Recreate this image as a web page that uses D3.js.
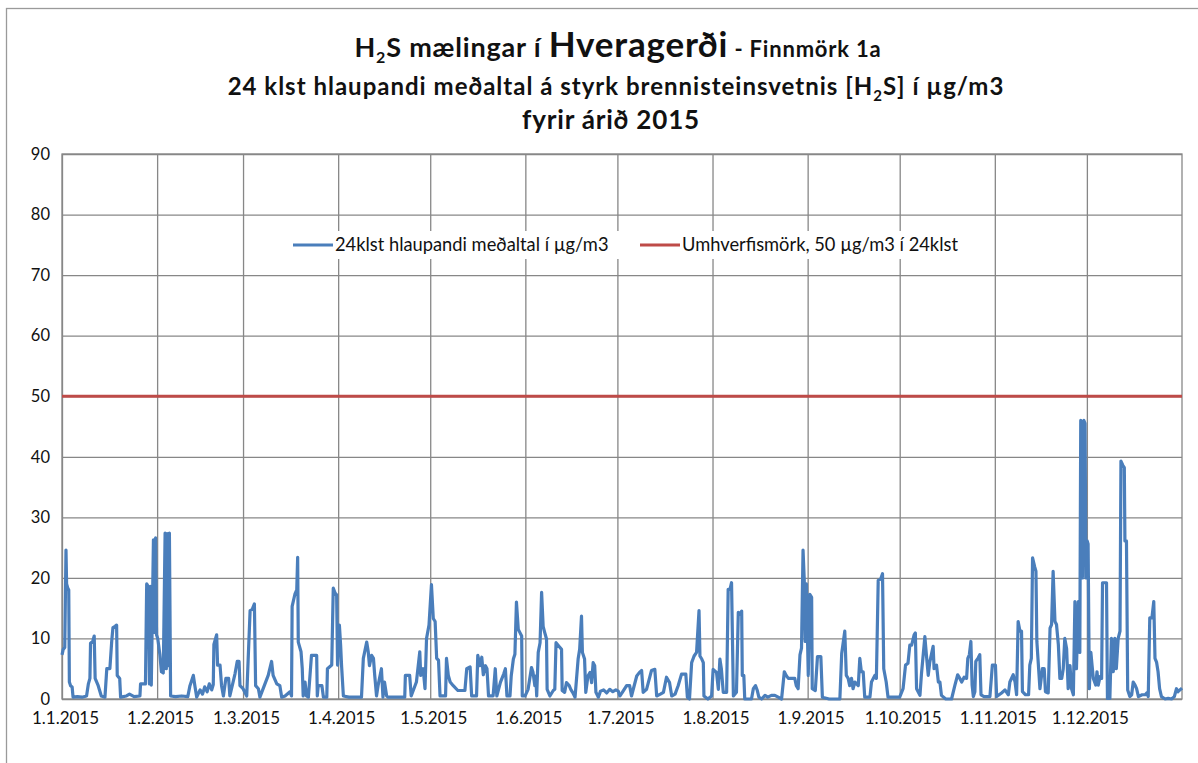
<!DOCTYPE html>
<html>
<head>
<meta charset="utf-8">
<script src="https://cdn.jsdelivr.net/npm/d3@7"></script>
<style>
    body { margin: 0; background: #fff; }
    svg { display: block; font-family: Lato, "Open Sans", sans-serif; }
</style>
</head>
<body>
<div id="chart"></div>
<script>
// Data: day of year 2015 (fractional) and 24h running mean of H2S in µg/m3
const h2sSeries = [
    [0,7.3],[0.4,8.2],[0.9,8.5],[1.3,24.6],[1.5,19],[1.9,18.3],[2.2,18],[2.4,2.8],[2.8,2.2],[3.3,2],[3.6,0.3],[5,0.4],[6.5,0.3],[8,0.5],
    [8.6,2.5],[9.1,3.4],[9.3,9.2],[10,9.5],[10.5,10.4],[10.8,3.4],[11.8,2.2],[12.8,0.5],[14,0.3],[14.6,5],[15.6,5],[16.2,9.5],[16.6,11.8],
    [17.3,12],[17.8,12.2],[18,3.9],[18.8,3.4],[19.1,0.3],[21,0.5],[22,0.8],[23.5,0.4],[25.4,0.5],[25.6,2.5],[27.2,2.5],[27.6,19],[28.2,18.5],
    [28.5,2.5],[28.8,18.6],[29.1,2.3],[29.8,26.3],[30.1,11],[30.5,26.6],[30.8,10.6],[31.2,10],[31.9,7.3],[32.4,4.5],[33,4.3],[33.6,27.4],
    [34,5],[34.3,27.3],[34.6,5.5],[35,27.4],[35.4,0.5],[37,0.4],[39,0.5],[41,0.4],[41.7,2.2],[42.8,3.9],[43.3,2.2],[43.9,0.3],[45,1.5],
    [45.8,0.8],[46.5,2],[47.3,1.2],[48,2.5],[48.8,1.5],[49.3,2.4],[49.5,9],[50.4,10.6],[50.7,5.6],[51.5,5.6],[52,2.2],[52.6,0.5],[53.4,3.4],
    [54.3,3.4],[54.7,0.5],[56.4,4.2],[57.1,6.2],[57.7,6.2],[58,2.2],[59,1.7],[60.2,0.5],[61.3,14.6],[62,14.8],[62.7,15.7],[63.1,2.2],[64,1.7],
    [64.5,0.3],[67.2,3.9],[68.3,6.2],[68.8,3.9],[70,2.5],[71,2.2],[71.6,0.3],[72.7,0.5],[74.3,1.2],[74.8,0.5],[75,15.3],[75.9,17.3],[76.5,18],
    [76.8,23.4],[77,9.4],[77.9,7.8],[78.3,5],[78.6,0.5],[79.2,2.8],[79.7,0.5],[80.3,0.3],[81.3,7.2],[83,7.2],[83.2,0.5],[83.5,2.2],[84.7,2.2],
    [85.2,0.3],[86.3,0.3],[86.5,5],[87.9,5.6],[88.4,18.3],[89,17.5],[89.5,17.2],[89.8,5.6],[90.4,12.2],[90.8,8.9],[91.1,5.6],[91.7,0.5],
    [93.5,0.3],[95.5,0.3],[97.6,0.3],[98.2,6.7],[99.3,9.4],[99.8,7.8],[100.2,5.5],[100.9,7.2],[101.5,6.7],[101.9,4],[102.5,0.5],[103,2.2],
    [104.1,5],[104.6,0.3],[105.1,2.8],[105.8,0.5],[106.3,0.3],[109,0.3],[111.7,0.3],[111.9,3.9],[113.3,3.9],[113.8,0.5],[115.5,2.8],
    [116.6,7.8],[116.9,3.9],[117.7,5],[118.3,1.7],[118.8,10],[119.6,12.2],[120.4,18.9],[121,13.3],[121.6,12.8],[122.1,6.7],[122.7,6.4],
    [123.2,0.5],[125,0.5],[125.3,6.7],[125.9,3.9],[126.5,2.8],[127.5,2.2],[129,1.4],[131.3,1.4],[131.9,5],[133,5.3],[133.5,0.5],[135.1,0.5],
    [135.5,7.2],[136.2,5.5],[136.8,6.9],[137.3,4],[138,5.5],[138.5,5],[139,0.5],[140.5,0.5],[141.2,5],[141.7,0.5],[142.9,2.8],[144,4.2],
    [144.5,5],[145,0.5],[146,0.5],[146.4,3.8],[147.1,6.6],[147.6,7.4],[148.1,16],[148.7,11.5],[149.2,11],[149.8,10.4],[150,0.5],[150.9,0.5],
    [151.9,1.6],[153,5.2],[153.5,4.4],[154.1,2.2],[154.4,3.8],[154.7,0.5],[155.2,7.7],[155.8,9.3],[156.3,17.6],[156.8,12],[157.3,11],
    [157.9,9.9],[158.1,1.6],[159,0.5],[160.1,1.4],[160.6,1.6],[161,9.3],[161.8,8.8],[162.3,8.5],[162.8,8.2],[163,1.4],[163.8,1.1],[164.4,2.7],
    [165.3,2.2],[165.8,1.6],[166.4,1.1],[167.2,0.3],[168.2,6.6],[168.7,8.2],[169.3,13.7],[169.6,7.7],[170.3,6.6],[170.7,1.1],[171.4,3.8],
    [172.1,4.4],[172.6,2.7],[173.1,6],[173.6,5.5],[174,1.1],[174.8,0.3],[175.5,1.3],[176.5,1.5],[177.5,1],[178.5,1.6],[179.5,1.2],[180.5,1.5],
    [181.3,1.3],[181.8,0.5],[182.5,1],[184,2.2],[185,2.2],[185.6,0.5],[187.3,3.8],[188.2,4.4],[188.9,4.7],[189.4,1.1],[190.5,1.6],[192.1,4.7],
    [193.2,4.9],[193.8,0.5],[195,0.8],[196,1.1],[197,3.6],[198,2.7],[198.7,0.5],[199.8,0.8],[200.8,2.2],[201.9,4.1],[203.3,4.1],[203.8,0.3],
    [204.5,0],[205.2,6],[206,7.1],[206.8,7.7],[207.6,14.6],[207.9,7.1],[208.5,6.6],[209,6],[209.2,0.5],[210.5,0],[211.2,0.3],[211.7,0.5],
    [212.2,4.9],[213.3,4.4],[213.9,1.6],[214.4,6.6],[214.9,4.9],[215.5,1.1],[216.6,1.1],[217.1,18.1],[217.7,18.1],[218.2,19.2],[218.8,0.5],
    [219.8,1.1],[220.4,14.3],[220.9,14],[221.5,14.5],[221.7,3.9],[222.2,3.9],[222.5,0],[224.7,0],[225.3,1.7],[226,2.2],[226.6,1.4],[227.1,0.3],
    [228,0],[229.1,0.6],[230,0.3],[231.2,0.6],[232.3,0.6],[233.4,0.3],[234.5,0],[235.4,4.5],[236,3.9],[236.7,3.4],[237.5,3.4],[238.8,3.4],
    [239.3,2.2],[239.9,1.7],[240.5,7.3],[241,8.4],[241.5,24.6],[241.9,19.6],[242.2,9.5],[242.6,19],[243.2,3.9],[243.7,17.3],[244.3,16.8],
    [244.5,1.7],[245.5,1.4],[246.2,7],[247.3,7],[247.8,0.3],[250,0],[252,0],[253.5,0],[254.1,7.5],[255.1,11.2],[255.6,3.9],[256.2,3.4],
    [256.7,2.2],[257.3,3.4],[257.8,1.7],[258.4,2.8],[259.5,2.2],[260,6.7],[260.5,4.5],[261.1,4.5],[261.6,0.3],[263.3,0.3],[263.8,2.8],
    [264.9,3.9],[265.4,3.4],[266,19.6],[266.8,19.8],[267.4,20.7],[267.8,5],[268.6,2.8],[269.2,0.3],[271,0.3],[273,0.3],[274.1,1.7],[274.9,5.6],
    [275.7,5.9],[276.3,8.9],[276.9,8.9],[277.7,10.6],[278.1,10.9],[278.5,1.7],[279.6,0.6],[280.1,4.2],[281.2,10.3],[281.7,7.3],[282.3,3.9],
    [282.8,6.1],[283.9,8.7],[284.2,5],[285,5.6],[285.6,2.8],[286.1,2.8],[286.6,0.6],[288,0],[289.9,0],[291,2.3],[291.9,4],[292.6,3.4],
    [293.2,2.8],[294,3.6],[294.8,3.4],[295.2,6.7],[295.7,7.3],[296.2,9.5],[296.6,2.3],[297,0.4],[297.5,1.2],[297.8,6.2],[298.6,6.8],
    [299.1,7.3],[299.5,0.7],[300.5,0.4],[301.5,0.4],[302.4,0.4],[303.2,5.6],[304.2,5.6],[304.6,0.4],[306.2,1],[307.3,1.5],[308.4,0.7],
    [308.9,2.8],[310,4],[310.6,2.8],[311.1,0.7],[311.6,12.8],[312.2,11.2],[312.7,11.2],[313,1.2],[314,0.7],[315,0.7],[315.4,5.6],[315.9,6.7],
    [316.3,23.3],[317,21.8],[317.4,21.1],[317.7,9.5],[318.2,5.6],[318.7,1.7],[319.5,5],[320.1,5],[320.5,1.2],[321.4,1],[322,11.7],[322.5,12.3],
    [323,21.1],[323.6,12.8],[324.1,12.3],[324.7,9],[325.2,3.4],[325.8,3.4],[326.3,5],[326.8,10],[327.4,8.3],[327.9,1.7],[328.5,5.5],[329,1.7],
    [329.6,0.7],[330.1,16.1],[330.6,5],[331.2,16.1],[331.7,7.7],[332,46],[332.6,20],[333,46],[333.4,45.5],[333.7,20],[334.1,26.1],[334.4,25.6],
    [334.8,1.7],[335.3,7.7],[335.7,5.5],[336.1,3.4],[336.9,2.3],[337.3,4.5],[337.7,2.3],[338.3,3.7],[338.8,3.4],[339.1,19.2],[339.8,19.2],
    [340.4,19.2],[340.7,0.1],[341.5,0.1],[342,10],[342.6,4.5],[343.1,10],[343.6,5],[344.2,10],[344.8,11.2],[345.1,39.3],[345.7,38.6],
    [346.2,38.2],[346.4,26.1],[346.9,26.1],[347.3,1.5],[348,0.4],[348.6,0.7],[349.1,2.8],[349.7,2.3],[350.2,1.7],[350.8,0.4],[352,0.7],
    [353,0.7],[353.5,1],[354,0.4],[354.5,13.4],[355.2,13.4],[355.8,16.1],[356.2,6.7],[356.7,6.1],[357.2,4.5],[357.7,1.7],[358.3,0.4],
    [359.5,0],[360.5,0.1],[361.6,0],[362.5,0.4],[363.2,1.7],[363.7,1.2],[364.3,1.5],[365,1.8]
];

// Environmental limit, 50 µg/m3 over 24 hours
const limitValue = 50;

// Axis ticks
const yTicks = [0, 10, 20, 30, 40, 50, 60, 70, 80, 90];
const monthLabels = ['1.1.2015', '1.2.2015', '1.3.2015', '1.4.2015', '1.5.2015', '1.6.2015',
    '1.7.2015', '1.8.2015', '1.9.2015', '1.10.2015', '1.11.2015', '1.12.2015'];

const legendLabels = ['24klst hlaupandi meðaltal í µg/m3', 'Umhverfismörk, 50 µg/m3 í 24klst'];

const width = 1198;
const height = 763;
const margin = { top: 154, right: 16, bottom: 64, left: 62 };
const chartWidth = width - margin.left - margin.right;
const chartHeight = height - margin.top - margin.bottom;

const blue = '#4a7ebb';
const red = '#be4b48';
const gridColor = '#878787';

const yearStart = new Date(2015, 0, 1);
const toDate = day => d3.timeMinute.offset(yearStart, Math.round(day * 1440));

const svg = d3.select('#chart').append('svg')
    .attr('width', width)
    .attr('height', height);

// Outer chart frame
svg.append('rect')
    .attr('x', 6.5)
    .attr('y', 8.5)
    .attr('width', width + 20)
    .attr('height', height + 20)
    .attr('fill', '#fff')
    .attr('stroke', '#9a9a9a')
    .attr('stroke-width', 1.3);

// Title
const title = svg.append('g')
    .attr('text-anchor', 'middle')
    .attr('font-weight', 'bold')
    .attr('fill', '#111');

const t1 = title.append('text').attr('x', 618).attr('y', 57)
    .attr('font-size', 27).attr('letter-spacing', 0.8);
t1.append('tspan').text('H');
t1.append('tspan').attr('font-size', 16).attr('dy', 6).text('2');
t1.append('tspan').attr('dy', -6).text('S mælingar í ');
t1.append('tspan').attr('font-size', 35).text('Hveragerði');
t1.append('tspan').attr('font-size', 22).text(' - Finnmörk 1a');

const t2 = title.append('text').attr('x', 616).attr('y', 95)
    .attr('font-size', 24).attr('letter-spacing', 1);
t2.append('tspan').text('24 klst hlaupandi meðaltal á styrk brennisteinsvetnis [H');
t2.append('tspan').attr('font-size', 15).attr('dy', 6).text('2');
t2.append('tspan').attr('dy', -6).text('S] í µg/m3');

title.append('text').attr('x', 611).attr('y', 129)
    .attr('font-size', 26).attr('letter-spacing', 0.8).text('fyrir árið 2015');

const g = svg.append('g')
    .attr('transform', `translate(${margin.left},${margin.top})`);

// Scales
const xScale = d3.scaleTime()
    .domain([yearStart, new Date(2016, 0, 1)])
    .range([0, chartWidth]);

const yScale = d3.scaleLinear()
    .domain([0, 90])
    .range([chartHeight, 0]);

const monthDates = monthLabels.map((_, i) => new Date(2015, i, 1));

// Grid
g.append('g')
    .attr('class', 'grid-y')
    .call(d3.axisLeft(yScale).tickValues(yTicks).tickSize(-chartWidth).tickFormat(''))
    .call(sel => sel.select('.domain').remove())
    .selectAll('line')
    .attr('stroke', gridColor)
    .attr('stroke-width', 1.3);

g.append('g')
    .attr('class', 'grid-x')
    .attr('transform', `translate(0,${chartHeight})`)
    .call(d3.axisBottom(xScale).tickValues(monthDates).tickSize(-chartHeight).tickFormat(''))
    .call(sel => sel.select('.domain').remove())
    .selectAll('line')
    .attr('stroke', gridColor)
    .attr('stroke-width', 1.3);

// Plot frame
g.append('rect')
    .attr('width', chartWidth)
    .attr('height', chartHeight)
    .attr('fill', 'none')
    .attr('stroke', gridColor)
    .attr('stroke-width', 1.3);

// Axis labels
const yAxis = g.append('g')
    .call(d3.axisLeft(yScale).tickValues(yTicks).tickSize(0).tickPadding(12));
yAxis.select('.domain').remove();
yAxis.selectAll('text')
    .attr('font-size', 16.5)
    .attr('font-family', 'Lato, sans-serif')
    .attr('fill', '#111');

const xAxis = g.append('g')
    .attr('transform', `translate(0,${chartHeight})`)
    .call(d3.axisBottom(xScale).tickValues(monthDates).tickSize(0).tickPadding(13)
        .tickFormat((d, i) => monthLabels[i]));
xAxis.select('.domain').remove();
xAxis.selectAll('text')
    .attr('font-size', 17)
    .attr('font-family', 'Lato, sans-serif')
    .attr('fill', '#111')
    .attr('dx', 3);

// Legend box (hides the grid behind it)
const legend = g.append('g')
    .attr('transform', `translate(0,${245 - margin.top})`);

legend.append('rect')
    .attr('x', 222)
    .attr('y', -14)
    .attr('width', 684)
    .attr('height', 28)
    .attr('fill', '#fff');

const legendColors = [blue, red];
const legendX = [231, 578];
legendLabels.forEach((label, i) => {
    legend.append('line')
        .attr('x1', legendX[i])
        .attr('x2', legendX[i] + 40)
        .attr('stroke', legendColors[i])
        .attr('stroke-width', 3);
    legend.append('text')
        .attr('x', legendX[i] + 42)
        .attr('y', 6)
        .attr('font-size', 18.3)
        .attr('fill', '#111')
        .text(label);
});

// Limit line
g.append('line')
    .attr('x1', 0)
    .attr('x2', chartWidth)
    .attr('y1', yScale(limitValue))
    .attr('y2', yScale(limitValue))
    .attr('stroke', red)
    .attr('stroke-width', 3);

// H2S line
const line = d3.line()
    .x(d => xScale(toDate(d[0])))
    .y(d => yScale(d[1]));

g.append('path')
    .datum(h2sSeries)
    .attr('d', line)
    .attr('fill', 'none')
    .attr('stroke', blue)
    .attr('stroke-width', 3.2)
    .attr('stroke-linejoin', 'round');
</script>
</body>
</html>
